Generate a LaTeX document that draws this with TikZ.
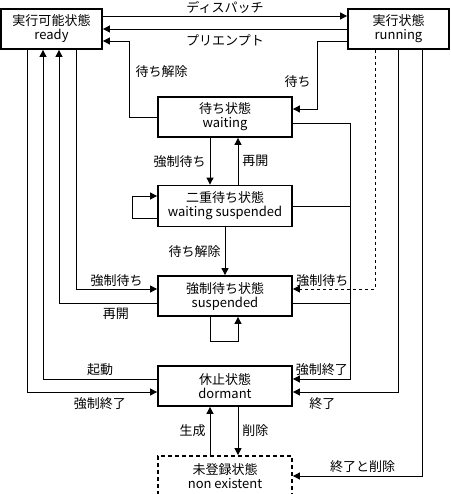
\documentclass[tikz,border=0pt]{standalone}
\usepackage{fontspec}
\setmainfont{Noto Sans CJK JP}
\usetikzlibrary{arrows.meta}
\tikzset{
  state/.style={draw,line width=1.8pt,minimum height=40pt,inner sep=0pt,align=center,font=\fontsize{13}{14}\selectfont},
  wide/.style={state,minimum width=134pt},
  trans/.style={line width=0.9pt,-{Triangle[length=7pt,width=7pt]}},
  wire/.style={line width=0.9pt},
  lbl/.style={font=\fontsize{13}{14}\selectfont,inner sep=4pt}
}
\begin{document}
\begin{tikzpicture}[x=1pt,y=-1pt]
                \useasboundingbox (0,0) rectangle (450,494);
                \clip (0,0) rectangle (450,494);
                \node[state,minimum width=101pt] (ready) at (51.5,29) {実行可能状態\\ready};
                \node[state,minimum width=101pt] (running) at (398.5,29) {実行状態\\running};
                \node[wide] (wait) at (225,117) {待ち状態\\waiting};
                \node[wide,minimum height=41pt] (waitsusp) at (225,206) {二重待ち状態\\waiting suspended};
                \node[wide] (susp) at (225,296) {強制待ち状態\\suspended};
                \node[wide] (dormant) at (225,386) {休止状態\\dormant};
                \node[wide,dashed,dash pattern=on 4pt off 3pt] (nonex) at (225,476) {未登録状態\\non existent};
                \draw[trans] ([yshift=13pt]ready.east) -- ([yshift=13pt]running.west) node[lbl,midway,above,inner sep=2pt] {ディスパッチ};
                \draw[trans] (running.west) -- (ready.east) node[lbl,midway,below,inner sep=5pt] {プリエンプト};
                \draw[trans] (wait.west) -- ++(-28,0) |- ([yshift=-12pt]ready.east) node[lbl,pos=0.3,right,inner sep=6pt] {待ち解除};
                \draw[trans] ([yshift=-12pt]running.west) -- ++(-30,0) |- ([yshift=8pt]wait.east) node[lbl,pos=0.3,left,inner sep=6pt] {待ち};
                \draw[trans] ([xshift=-15pt]wait.south) -- ([xshift=-15pt]waitsusp.north) node[lbl,midway,left] {強制待ち};
                \draw[trans] ([xshift=13pt]waitsusp.north) -- ([xshift=13pt]wait.south) node[lbl,midway,right] {再開};
                \draw[trans] ([yshift=-12pt]waitsusp.west) -- ++(-25,0) |- ([yshift=10pt]waitsusp.west);
                \draw[trans] (waitsusp.south) -- (susp.north) node[lbl,midway,left] {待ち解除};
                \draw[trans] ([xshift=24.5pt]ready.south) |- ([yshift=7pt]susp.west) node[lbl,pos=0.75,above,inner sep=2pt] {強制待ち};
                \draw[trans] ([yshift=-7pt]susp.west) -| ([xshift=7.5pt]ready.south) node[lbl,pos=0.21,below,inner sep=5pt] {再開};
                \draw[trans] ([yshift=7pt]dormant.west) -| ([xshift=-8.5pt]ready.south) node[lbl,pos=0.25,above,inner sep=3pt] {起動};
                \draw[trans] ([xshift=-24.5pt]ready.south) |- ([yshift=-6pt]dormant.west) node[lbl,pos=0.78,below,inner sep=5pt] {強制終了};
                \draw[trans] ([xshift=-15pt]susp.south) -- ++(0,25) -| ([xshift=13pt]susp.south);
                \draw[trans] ([yshift=-6pt]wait.east) -- ++(58,0) |- ([yshift=7pt]dormant.east) node[lbl,pos=0.75,above,inner sep=3pt] {強制終了};
                \draw[wire] (waitsusp.east) -- ++(58,0);
                \draw[wire] ([yshift=-7pt]susp.east) -- ++(58,0);
                \draw[trans,dashed] ([xshift=-23.5pt]running.south) |- ([yshift=7pt]susp.east) node[lbl,pos=0.82,above,inner sep=2pt] {強制待ち};
                \draw[trans] (running.south) |- ([yshift=-6pt]dormant.east) node[lbl,pos=0.86,below,inner sep=5pt] {終了};
                \draw[trans] ([xshift=23.5pt]running.south) |- (nonex.east) node[lbl,pos=0.73,above,inner sep=3pt] {終了と削除};
                \draw[trans] ([xshift=-15pt]nonex.north) -- ([xshift=-15pt]dormant.south) node[lbl,midway,left] {生成};
                \draw[trans] ([xshift=13pt]dormant.south) -- ([xshift=13pt]nonex.north) node[lbl,midway,right] {削除};
            \end{tikzpicture}
\end{document}
